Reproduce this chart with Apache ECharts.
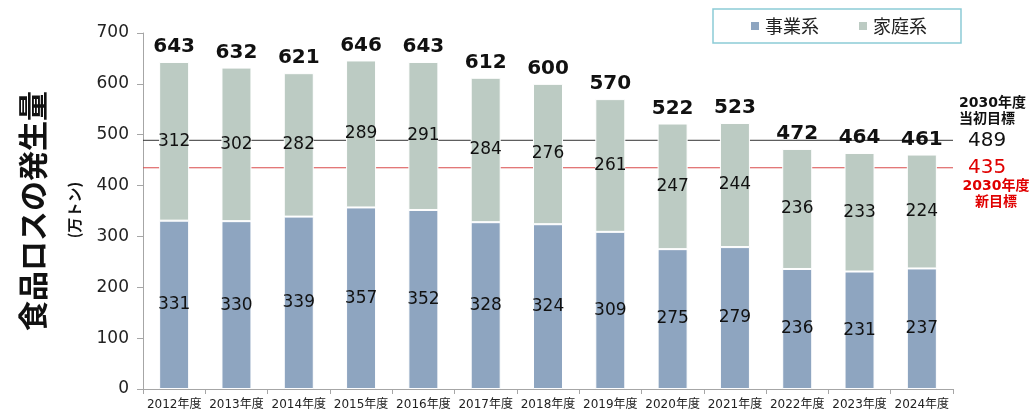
<!DOCTYPE html>
<html>
<head>
<meta charset="utf-8">
<script src="https://cdn.jsdelivr.net/npm/echarts@6/dist/echarts.min.js"></script>
<style>
  html, body { margin: 0; padding: 0; background: #fff; }
  #chart { width: 1030px; height: 419px; }
</style>
</head>
<body>
<div id="chart"></div>
<script>
// データ（万トン）
const years = ['2012年度', '2013年度', '2014年度', '2015年度', '2016年度', '2017年度', '2018年度',
  '2019年度', '2020年度', '2021年度', '2022年度', '2023年度', '2024年度'];
const business = [331, 330, 339, 357, 352, 328, 324, 309, 275, 279, 236, 231, 237];
const household = [312, 302, 282, 289, 291, 284, 276, 261, 247, 244, 236, 233, 224];
const targetOld = 489;
const targetNew = 435;
const yTicks = [0, 100, 200, 300, 400, 500, 600, 700];

const FONT = '"DejaVu Sans", "Noto Sans CJK JP", sans-serif';
const JP = '"Noto Sans CJK JP", sans-serif';

const totals = business.map((v, i) => v + household[i]);

// 目標線：横幅いっぱいの補助軸(0〜1)上に描く
function targetLine(name, value, lineColor, textColor) {
  return {
    name: name,
    type: 'line',
    xAxisIndex: 1,
    data: [[0, value], [1, value]],
    symbol: 'none',
    silent: true,
    z: 1,
    lineStyle: { color: lineColor, width: 1 },
    emphasis: { disabled: true },
    endLabel: {
      show: true,
      distance: 15,
      fontSize: 20,
      color: textColor,
      formatter: String(value)
    }
  };
}

const chart = echarts.init(document.getElementById('chart'), null, { renderer: 'canvas' });

const option = {
  animation: false,
  textStyle: { fontFamily: FONT },
  grid: { left: 143, right: 77, top: 33, bottom: 30, containLabel: false },
  legend: {
    left: 713,
    top: 9,
    padding: [8, 34, 8, 36],
    borderColor: '#8ccbd6',
    borderWidth: 1.5,
    itemGap: 38,
    itemWidth: 10,
    itemHeight: 10,
    icon: 'rect',
    textStyle: { fontFamily: JP, fontSize: 18, color: '#222' },
    data: ['事業系', '家庭系']
  },
  xAxis: [
    {
      type: 'category',
      data: years,
      axisLine: { lineStyle: { color: '#a6a6a6' } },
      axisTick: { show: true, length: 5, lineStyle: { color: '#a6a6a6' } },
      axisLabel: { fontSize: 12, color: '#222', margin: 10, interval: 0, fontFamily: FONT }
    },
    { type: 'value', min: 0, max: 1, show: false }
  ],
  yAxis: {
    type: 'value',
    min: yTicks[0],
    max: yTicks[yTicks.length - 1],
    interval: 100,
    axisLine: { show: true, lineStyle: { color: '#a6a6a6' } },
    axisTick: { show: true, inside: false, length: 6, lineStyle: { color: '#a6a6a6' } },
    splitLine: { show: false },
    axisLabel: { fontSize: 17, color: '#222', margin: 14 }
  },
  series: [
    targetLine('当初目標', targetOld, '#333', '#111'),
    targetLine('新目標', targetNew, '#d94a4a', '#e00000'),
    {
      name: '事業系',
      type: 'bar',
      stack: 'total',
      barWidth: 30,
      z: 5,
      data: business,
      itemStyle: { color: '#8ea5c0', borderColor: '#fff', borderWidth: 1 },
      label: { show: true, position: 'inside', fontSize: 17, color: '#111' },
      emphasis: { disabled: true }
    },
    {
      name: '家庭系',
      type: 'bar',
      stack: 'total',
      barWidth: 30,
      z: 5,
      data: household,
      itemStyle: { color: '#bccbc3', borderColor: '#fff', borderWidth: 1 },
      label: { show: true, position: 'inside', fontSize: 17, color: '#111' },
      emphasis: { disabled: true }
    },
    {
      // 合計ラベル用（透明）
      name: '合計',
      type: 'bar',
      barWidth: 30,
      barGap: '-100%',
      z: 4,
      data: totals,
      itemStyle: { color: 'transparent' },
      label: {
        show: true, position: 'top', distance: 5,
        fontSize: 20, fontWeight: 'bold', color: '#111'
      },
      silent: true,
      emphasis: { disabled: true }
    }
  ],
  graphic: [
    {
      type: 'text',
      x: 33, y: 211,
      rotation: Math.PI / 2,
      style: {
        text: '食品ロスの発生量',
        font: 'bold 30px ' + JP,
        fill: '#111',
        align: 'center',
        verticalAlign: 'middle'
      }
    },
    {
      type: 'text',
      x: 74, y: 210,
      rotation: Math.PI / 2,
      style: {
        text: '(万トン)',
        font: 'bold 15px ' + JP,
        fill: '#111',
        align: 'center',
        verticalAlign: 'middle'
      }
    },
    {
      type: 'text',
      x: 959, y: 95,
      style: {
        text: '2030年度\n当初目標',
        font: 'bold 14px ' + FONT,
        lineHeight: 16,
        fill: '#111',
        align: 'left'
      }
    },
    {
      type: 'text',
      x: 996, y: 178,
      style: {
        text: '2030年度\n新目標',
        font: 'bold 14px ' + FONT,
        lineHeight: 16,
        fill: '#e00000',
        align: 'center'
      }
    }
  ]
};

chart.setOption(option);
</script>
</body>
</html>
